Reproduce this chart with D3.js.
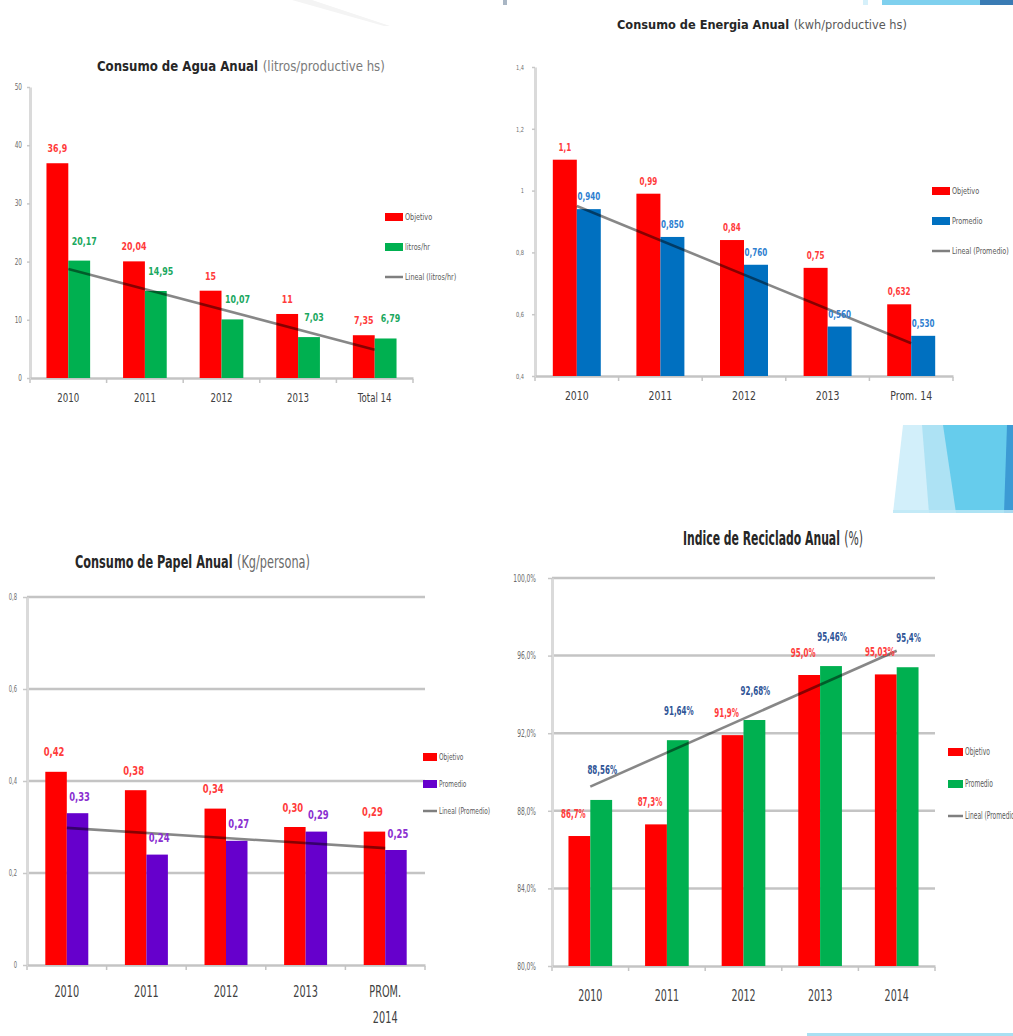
<!DOCTYPE html>
<html>
<head>
<meta charset="utf-8">
<script src="https://cdn.jsdelivr.net/npm/d3@7"></script>
<style>
  body { margin: 0; background: #fff; }
  svg { display: block; }
</style>
</head>
<body>
<svg id="board" width="1013" height="1036"></svg>
<script>
// ---- Consumo de Agua ----
const aguaCats = ["2010", "2011", "2012", "2013", "Total 14"];
const aguaObjetivo = [36.9, 20.04, 15, 11, 7.35];
const aguaLitros = [20.17, 14.95, 10.07, 7.03, 6.79];
const aguaTicks = [0, 10, 20, 30, 40, 50];

// ---- Consumo de Energia ----
const energiaCats = ["2010", "2011", "2012", "2013", "Prom. 14"];
const energiaObjetivo = [1.1, 0.99, 0.84, 0.75, 0.632];
const energiaPromedio = [0.94, 0.85, 0.76, 0.56, 0.53];
const energiaTicks = [0.4, 0.6, 0.8, 1, 1.2, 1.4];

// ---- Consumo de Papel ----
const papelCats = ["2010", "2011", "2012", "2013", "PROM.\n2014"];
const papelObjetivo = [0.42, 0.38, 0.34, 0.30, 0.29];
const papelPromedio = [0.33, 0.24, 0.27, 0.29, 0.25];
const papelTicks = [0, 0.2, 0.4, 0.6, 0.8];

// ---- Indice de Reciclado ----
const recicladoCats = ["2010", "2011", "2012", "2013", "2014"];
const recicladoObjetivo = [86.7, 87.3, 91.9, 95.0, 95.03];
const recicladoPromedio = [88.56, 91.64, 92.68, 95.46, 95.4];
const recicladoTicks = [80, 84, 88, 92, 96, 100];

const FONT = "'DejaVu Sans Condensed','DejaVu Sans',sans-serif";
const RED = "#ff0000";

const comma = s => s.replace(".", ",");
const plain = v => comma(String(v));
const fixed = p => v => comma(d3.format("." + p + "f")(v));
const pct = v => { let s = String(v); if (!s.includes(".")) s += ".0"; return comma(s) + "%"; };

// narrow the glyphs horizontally by a factor (the charts use a condensed face)
function condense(sel, f) {
  sel.each(function () {
    const L = this.getComputedTextLength();
    if (L > 0) d3.select(this).attr("textLength", L * f).attr("lengthAdjust", "spacingAndGlyphs");
  });
}

const svg = d3.select("#board");

// ---- background decoration ----
const deco = svg.append("g");
deco.append("polygon").attr("points", "292,0 312,0 390,26 384,26").attr("fill", "#f4f4f4");
deco.append("rect").attr("x", 503).attr("y", 0).attr("width", 4).attr("height", 5).attr("fill", "#a9b6c4");
deco.append("rect").attr("x", 863).attr("y", 0).attr("width", 5).attr("height", 5).attr("fill", "#d6f0fa");
deco.append("rect").attr("x", 882).attr("y", 0).attr("width", 98).attr("height", 5).attr("fill", "#7fd0ee");
deco.append("rect").attr("x", 980).attr("y", 0).attr("width", 33).attr("height", 5).attr("fill", "#3a7bb4");
deco.append("polygon").attr("points", "903,425 1013,425 1013,513 893,513").attr("fill", "#d2effa");
deco.append("polygon").attr("points", "922,425 1013,425 1013,513 929,513").attr("fill", "#ade2f4");
deco.append("polygon").attr("points", "943,425 1013,425 1013,513 956,513").attr("fill", "#66ccec");
deco.append("polygon").attr("points", "1007,425 1013,425 1013,513 1004,513").attr("fill", "#3c9ad4");
deco.append("rect").attr("x", 893).attr("y", 510).attr("width", 120).attr("height", 3).attr("fill", "#bfe8f6").attr("opacity", 0.8);
deco.append("rect").attr("x", 807).attr("y", 1033).attr("width", 206).attr("height", 3).attr("fill", "#a9e0f2");

function drawChart(o) {
  const g = svg.append("g");
  const x = d3.scaleBand().domain(o.cats).range([o.x0, o.x1])
    .paddingInner(o.pad).paddingOuter(o.pad / 2);
  const xs = d3.scaleBand().domain(d3.range(o.series.length)).range([0, x.bandwidth()]);
  const y = d3.scaleLinear().domain(o.domain).range([o.yBot, o.yTop]);

  // horizontal gridlines
  if (o.grid) {
    g.selectAll("line.grid").data(o.ticks.slice(1)).join("line")
      .attr("x1", o.x0).attr("x2", o.x1)
      .attr("y1", d => y(d)).attr("y2", d => y(d))
      .attr("stroke", "#c4c4c4").attr("stroke-width", 2.5);
  }

  // value axis
  const ya = g.append("g").attr("transform", `translate(${o.x0},0)`)
    .call(d3.axisLeft(y).tickValues(o.ticks).tickFormat(o.tickFmt)
      .tickSize(o.grid ? 4 : 3).tickSizeOuter(0).tickPadding(o.tickPad));
  ya.select(".domain").attr("stroke", "#dadada").attr("stroke-width", 3);
  ya.selectAll(".tick line").attr("stroke", "#c8c8c8").attr("stroke-width", 1.5);
  ya.selectAll(".tick text").attr("fill", "#6b6b6b")
    .style("font-family", FONT).style("font-size", o.tickSize + "px")
    .call(condense, o.sq);

  // category axis
  const xa = g.append("g").attr("transform", `translate(0,${o.yBot})`)
    .call(d3.axisBottom(x).tickSize(0).tickSizeOuter(0).tickPadding(o.catPad));
  xa.select(".domain").attr("stroke", "#c4c4c4").attr("stroke-width", 2.5);
  xa.selectAll(".tick text").attr("fill", "#404040")
    .style("font-family", FONT).style("font-size", o.catSize + "px")
    .each(function (d) {
      const parts = d.split("\n");
      const t = d3.select(this).text(null);
      parts.forEach((p, i) => t.append("tspan").attr("x", 0)
        .attr("dy", i === 0 ? "0.71em" : "1.75em").text(p));
    });
  xa.selectAll(".tick text tspan").call(condense, o.sq);
  g.selectAll("line.sep").data(d3.range(o.cats.length + 1)).join("line")
    .attr("x1", i => x.range()[0] + i * x.step()).attr("x2", i => x.range()[0] + i * x.step())
    .attr("y1", o.yBot + 1).attr("y2", o.yBot + 5)
    .attr("stroke", "#c4c4c4").attr("stroke-width", 1.5);

  // bars
  o.series.forEach((s, si) => {
    g.selectAll(null).data(s.values).join("rect")
      .attr("x", (d, i) => x(o.cats[i]) + xs(si))
      .attr("width", xs.bandwidth())
      .attr("y", d => y(d))
      .attr("height", d => y(o.domain[0]) - y(d))
      .attr("fill", s.color);
  });

  // linear trend of the second series
  const tv = o.series[1].values;
  const n = tv.length, mx = (n - 1) / 2, my = d3.mean(tv);
  const slope = d3.sum(tv, (v, i) => (i - mx) * (v - my)) / d3.sum(tv, (v, i) => (i - mx) ** 2);
  const fit = i => my + slope * (i - mx);
  g.append("line")
    .attr("x1", x(o.cats[0]) + x.bandwidth() / 2).attr("y1", y(fit(0)))
    .attr("x2", x(o.cats[n - 1]) + x.bandwidth() / 2).attr("y2", y(fit(n - 1)))
    .attr("stroke", "#000").attr("stroke-opacity", 0.47).attr("stroke-width", 2.6);

  // value labels
  o.series.forEach((s, si) => {
    g.selectAll(null).data(s.values).join("text")
      .attr("x", (d, i) => x(o.cats[i]) + xs(si) + xs.bandwidth() / 2 + (s.dx || 0))
      .attr("y", d => y(d) - s.lift)
      .attr("text-anchor", "middle").attr("dominant-baseline", "middle")
      .attr("fill", s.labelColor).attr("font-weight", "bold")
      .style("font-family", FONT).style("font-size", o.labelSize + "px")
      .text(d => s.fmt(d))
      .call(condense, o.sq);
  });

  // legend
  const lg = g.append("g");
  o.series.forEach((s, si) => {
    const ly = o.legend.y + si * o.legend.dy;
    lg.append("rect").attr("x", o.legend.x).attr("y", ly - 4).attr("width", o.legend.w).attr("height", 8)
      .attr("fill", s.color);
  });
  const ty = o.legend.y + 2 * o.legend.dy;
  lg.append("line").attr("x1", o.legend.x).attr("x2", o.legend.x + o.legend.w)
    .attr("y1", ty).attr("y2", ty).attr("stroke", "#7f7f7f").attr("stroke-width", 2.5);
  const names = [o.series[0].name, o.series[1].name, "Lineal (" + o.series[1].name + ")"];
  lg.selectAll("text").data(names).join("text")
    .attr("x", o.legend.x + o.legend.w + 2).attr("y", (d, i) => o.legend.y + i * o.legend.dy)
    .attr("dominant-baseline", "middle").attr("fill", "#595959")
    .style("font-family", FONT).style("font-size", o.legend.size + "px")
    .text(d => d)
    .call(condense, o.sq);

  // title: bold name followed by the unit, horizontally scaled into the given width
  const tg = g.append("g");
  const tBold = tg.append("text").attr("x", 0).attr("y", 0)
    .attr("dominant-baseline", "middle").attr("font-weight", "bold").attr("fill", "#262626")
    .style("font-family", FONT).style("font-size", o.title.size + "px").text(o.title.bold);
  const tRest = tg.append("text").attr("y", 0)
    .attr("dominant-baseline", "middle").attr("fill", o.title.restColor)
    .style("font-family", FONT).style("font-size", o.title.size + "px").text(o.title.rest);
  const gap = o.title.size * 0.35;
  const w1 = tBold.node().getComputedTextLength(), w2 = tRest.node().getComputedTextLength();
  tRest.attr("x", w1 + gap);
  const k = o.title.len / (w1 + gap + w2);
  tg.attr("transform", `translate(${o.title.x},${o.title.y}) scale(${k},1)`);
}

drawChart({
  cats: aguaCats, domain: [0, 50], ticks: aguaTicks, tickFmt: plain,
  x0: 30, x1: 413, yTop: 87, yBot: 378, pad: 0.43, grid: false, sq: 0.8,
  tickPad: 5, tickSize: 8, catPad: 15, catSize: 12, labelSize: 11,
  series: [
    { name: "Objetivo", values: aguaObjetivo, color: RED, labelColor: "#ff3b3b", fmt: plain, lift: 14 },
    { name: "litros/hr", values: aguaLitros, color: "#00b050", labelColor: "#1aa860", fmt: plain, lift: 19, dx: 5 }
  ],
  legend: { x: 385, y: 217, dy: 30, w: 18, size: 9 },
  title: { x: 97, y: 67, len: 288, size: 14, bold: "Consumo de Agua Anual", rest: "(litros/productive hs)", restColor: "#7a7a7a" }
});

drawChart({
  cats: energiaCats, domain: [0.4, 1.4], ticks: energiaTicks, tickFmt: plain,
  x0: 535, x1: 953, yTop: 67, yBot: 376, pad: 0.426, grid: false, sq: 0.8,
  tickPad: 8, tickSize: 7, catPad: 15, catSize: 13, labelSize: 10,
  series: [
    { name: "Objetivo", values: energiaObjetivo, color: RED, labelColor: "#ff3b3b", fmt: plain, lift: 12 },
    { name: "Promedio", values: energiaPromedio, color: "#0070c0", labelColor: "#2f7fd0", fmt: fixed(3), lift: 12 }
  ],
  legend: { x: 932, y: 191, dy: 30, w: 18, size: 9 },
  title: { x: 617, y: 25, len: 290, size: 13, bold: "Consumo de Energia Anual", rest: "(kwh/productive hs)", restColor: "#5a5a5a" }
});

drawChart({
  cats: papelCats, domain: [0, 0.8], ticks: papelTicks, tickFmt: plain,
  x0: 27, x1: 425, yTop: 597, yBot: 965, pad: 0.46, grid: true, sq: 0.72,
  tickPad: 6, tickSize: 8, catPad: 21, catSize: 15, labelSize: 13,
  series: [
    { name: "Objetivo", values: papelObjetivo, color: RED, labelColor: "#ff3b3b", fmt: fixed(2), lift: 19, dx: -2 },
    { name: "Promedio", values: papelPromedio, color: "#6600cc", labelColor: "#8a2fd0", fmt: fixed(2), lift: 16, dx: 2 }
  ],
  legend: { x: 423, y: 757, dy: 27, w: 14, size: 9 },
  title: { x: 75, y: 563, len: 235, size: 17, bold: "Consumo de Papel Anual", rest: "(Kg/persona)", restColor: "#6a6a6a" }
});

drawChart({
  cats: recicladoCats, domain: [80, 100], ticks: recicladoTicks, tickFmt: v => comma(d3.format(".1f")(v)) + "%",
  x0: 552, x1: 935, yTop: 578, yBot: 966, pad: 0.43, grid: true, sq: 0.66,
  tickPad: 12, tickSize: 10, catPad: 24, catSize: 16, labelSize: 12,
  series: [
    { name: "Objetivo", values: recicladoObjetivo, color: RED, labelColor: "#ff3b3b", fmt: pct, lift: 22, dx: -6 },
    { name: "Promedio", values: recicladoPromedio, color: "#00b050", labelColor: "#2f5597", fmt: pct, lift: 29, dx: 1 }
  ],
  legend: { x: 948, y: 752, dy: 32, w: 15, size: 10 },
  title: { x: 683, y: 540, len: 180, size: 19, bold: "Indice de Reciclado Anual", rest: "(%)", restColor: "#404040" }
});
</script>
</body>
</html>
